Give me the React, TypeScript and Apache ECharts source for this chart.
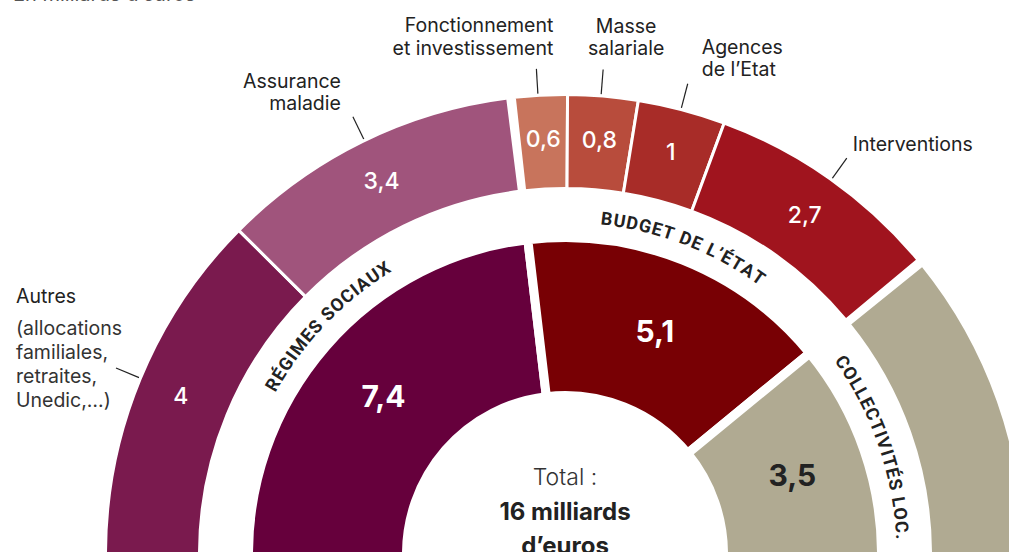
import React, { useEffect, useRef } from 'react';
import * as echarts from 'echarts';

// ---------- data ----------
const groupNames = ['RÉGIMES SOCIAUX', 'BUDGET DE L’ÉTAT', 'COLLECTIVITÉS LOC.'];
const groupValues = [7.4, 5.1, 3.5];

const itemNames = [
  'Autres',
  'Assurance maladie',
  'Fonctionnement et investissement',
  'Masse salariale',
  'Agences de l’Etat',
  'Interventions',
  'Collectivités locales',
];
const itemValues = [4, 3.4, 0.6, 0.8, 1, 2.7, 3.5];
const itemGroups = [0, 0, 1, 1, 1, 1, 2];
const itemCaptions = [
  '{a|Autres}\n{b|(allocations}\n{b|familiales,}\n{b|retraites,}\n{b|Unedic,…)}',
  'Assurance\nmaladie',
  'Fonctionnement\net investissement',
  'Masse\nsalariale',
  'Agences\nde l’Etat',
  'Interventions',
  '',
];
const subtitleText = 'En milliards d’euros';
const totalLines = ['Total :', '16 milliards', 'd’euros'];

// ---------- styles / layout ----------
const groupColors = ['#66003c', '#780004', '#b0aa92'];
const groupLabelColors = ['#ffffff', '#ffffff', '#222222'];
const itemColors = ['#7a1a4e', '#a0547c', '#c8745c', '#b84c3c', '#a82c28', '#a0141e', '#b0aa92'];
const captionOffsets: any[] = [
  { dx: -100, dy: -92, align: 'left', verticalAlign: 'top' },
  { dx: -12, dy: -2, align: 'right', verticalAlign: 'bottom' },
  { dx: 17, dy: -10, align: 'right', verticalAlign: 'bottom' },
  { dx: 23, dy: -10, align: 'center', verticalAlign: 'bottom' },
  { dx: 14, dy: -3, align: 'left', verticalAlign: 'bottom' },
  { dx: 6, dy: -3, align: 'left', verticalAlign: 'bottom' },
  { dx: 0, dy: 0, align: 'left', verticalAlign: 'bottom' },
];
const groupLabelShift = [-2.2, 0.9, -0.6];

const W = 1009;
const H = 552;
const CX = 565;
const CY = 554;
const IN_R0 = 163;
const IN_R1 = 312;
const OUT_R0 = 367;
const OUT_R1 = 458;
const IN_GAP = 9;
const OUT_GAP = 3;
const GROUP_GAP = 9;
const EXT = 1.2;
const BAND_R = 338;
const ARC_FONT = 'bold 18px Roboto';
const ARC_LS = 1.2;
const CAPTION_SIZE = 19.5;

function measure(ctx: CanvasRenderingContext2D | null, s: string) {
  if (!ctx) return 10;
  return ctx.measureText(s).width;
}

function fmt(v: number) {
  return String(v).replace('.', ',');
}

export default function App() {
  const ref = useRef<HTMLDivElement>(null);

  useEffect(() => {
    if (!ref.current) return;
    const chart = echarts.init(ref.current, undefined, { renderer: 'svg' });

    const total = groupValues.reduce((a, b) => a + b, 0);
    const toAngle = (cum: number) => 180 - (cum / total) * 180;
    const cumBefore: number[] = [];
    let acc = 0;
    groupValues.forEach((v) => {
      cumBefore.push(acc);
      acc += v;
    });
    const last = groupValues.length - 1;
    const padDeg = (((GROUP_GAP - OUT_GAP) / 2) / ((OUT_R0 + OUT_R1) / 2)) * (180 / Math.PI);

    const series: any[] = [];

    // inner ring (one series per group)
    groupValues.forEach((v, g) => {
      series.push({
        type: 'pie',
        center: [CX, CY],
        radius: [IN_R0 - IN_GAP / 2, IN_R1 + IN_GAP / 2],
        startAngle: toAngle(cumBefore[g]) + (g === 0 ? EXT : 0),
        endAngle: toAngle(cumBefore[g] + v) - (g === last ? EXT : 0),
        clockwise: true,
        silent: true,
        avoidLabelOverlap: false,
        itemStyle: { borderColor: '#ffffff', borderWidth: IN_GAP },
        label: {
          show: true,
          position: 'inside',
          formatter: (p: any) => fmt(p.value),
          fontFamily: 'Inter',
          fontWeight: 700,
          fontSize: 30,
          color: groupLabelColors[g],
        },
        labelLine: { show: false },
        data: [{ name: groupNames[g], value: v, itemStyle: { color: groupColors[g] } }],
      });
    });

    // outer ring (one series per group)
    groupValues.forEach((_, g) => {
      const idx = itemValues.map((_, i) => i).filter((i) => itemGroups[i] === g);
      const sum = idx.reduce((a, i) => a + itemValues[i], 0);
      series.push({
        type: 'pie',
        center: [CX, CY],
        radius: [OUT_R0 - OUT_GAP / 2, OUT_R1 + OUT_GAP / 2],
        startAngle: toAngle(cumBefore[g]) - (g > 0 ? padDeg : 0),
        endAngle: toAngle(cumBefore[g] + sum) + (g < last ? padDeg : 0),
        clockwise: true,
        silent: true,
        avoidLabelOverlap: false,
        itemStyle: { borderColor: '#ffffff', borderWidth: OUT_GAP },
        label: {
          show: true,
          position: 'inside',
          formatter: (p: any) => fmt(p.value),
          fontFamily: 'Inter',
          fontWeight: 500,
          fontSize: 23,
          color: '#ffffff',
        },
        labelLine: { show: false },
        data: idx.map((i) => ({
          name: itemNames[i],
          value: itemValues[i],
          itemStyle: { color: itemColors[i] },
          label: { show: itemGroups[i] !== last },
        })),
      });
    });

    // transparent overlay carrying captions + leader lines
    series.push({
      type: 'pie',
      center: [CX, CY],
      radius: [OUT_R1 + 1, OUT_R1 + 3],
      startAngle: 180,
      endAngle: 0,
      clockwise: true,
      silent: true,
      avoidLabelOverlap: false,
      itemStyle: { color: 'rgba(0,0,0,0)' },
      label: {
        show: true,
        position: 'outside',
        formatter: (p: any) => itemCaptions[p.dataIndex],
        fontFamily: 'Inter',
        fontSize: CAPTION_SIZE,
        lineHeight: 22.5,
        color: '#222222',
        rich: {
          a: { fontFamily: 'Inter', fontSize: CAPTION_SIZE, lineHeight: 40, color: '#222222' },
          b: { fontFamily: 'Inter', fontSize: CAPTION_SIZE, lineHeight: 24, color: '#333333' },
        },
      },
      labelLine: {
        show: true,
        length: 25,
        length2: 0,
        lineStyle: { color: '#222222', width: 1.2 },
      },
      labelLayout: (params: any) => {
        const pts = params.labelLinePoints;
        const o = captionOffsets[params.dataIndex];
        if (!pts || !o) return {};
        const end = pts[pts.length - 1];
        return {
          x: end[0] + o.dx,
          y: end[1] + o.dy,
          align: o.align,
          verticalAlign: o.verticalAlign,
          labelLinePoints: pts,
        };
      },
      data: itemValues.map((v, i) => ({
        name: itemNames[i],
        value: v,
        label: { show: itemCaptions[i] !== '' },
        labelLine: { show: itemCaptions[i] !== '' },
      })),
    });

    // curved group labels
    const canvas = document.createElement('canvas');
    const ctx = canvas.getContext('2d');
    if (ctx) ctx.font = ARC_FONT;
    const graphics: any[] = [];
    groupNames.forEach((name, g) => {
      const mid = (toAngle(cumBefore[g]) + toAngle(cumBefore[g] + groupValues[g])) / 2 + groupLabelShift[g];
      const chars = Array.from(name);
      const widths = chars.map((c) => measure(ctx, c));
      const totalW = widths.reduce((a, b) => a + b, 0) + ARC_LS * (chars.length - 1);
      let s = -totalW / 2;
      chars.forEach((c, i) => {
        const sc = s + widths[i] / 2;
        s += widths[i] + ARC_LS;
        const th = mid - (sc / BAND_R) * (180 / Math.PI);
        const rad = (th * Math.PI) / 180;
        graphics.push({
          type: 'text',
          x: CX + BAND_R * Math.cos(rad),
          y: CY - BAND_R * Math.sin(rad),
          rotation: ((th - 90) * Math.PI) / 180,
          silent: true,
          style: {
            text: c,
            font: ARC_FONT,
            fill: '#222222',
            align: 'center',
            verticalAlign: 'middle',
            textAlign: 'center',
            textVerticalAlign: 'middle',
          },
        });
      });
    });

    // centre texts
    const centreStyles = [
      { y: 477, font: '300 23px Inter', fill: '#333333' },
      { y: 511, font: '700 24px Inter', fill: '#222222' },
      { y: 545, font: '700 24px Inter', fill: '#222222' },
    ];
    totalLines.forEach((t, i) => {
      graphics.push({
        type: 'text',
        x: CX,
        y: centreStyles[i].y,
        silent: true,
        style: {
          text: t,
          font: centreStyles[i].font,
          fill: centreStyles[i].fill,
          align: 'center',
          verticalAlign: 'middle',
          textAlign: 'center',
          textVerticalAlign: 'middle',
        },
      });
    });

    graphics.push({
      type: 'text',
      x: 13,
      y: -6,
      silent: true,
      style: {
        text: subtitleText,
        font: '400 20px Inter',
        fill: '#555555',
        align: 'left',
        verticalAlign: 'middle',
        textAlign: 'left',
        textVerticalAlign: 'middle',
      },
    });

    chart.setOption({
      animation: false,
      backgroundColor: '#ffffff',
      series,
      graphic: { elements: graphics },
    });

    return () => chart.dispose();
  }, []);

  return (
    <div
      ref={ref}
      style={{ position: 'fixed', left: 0, top: 0, width: W, height: H }}
    />
  );
}
